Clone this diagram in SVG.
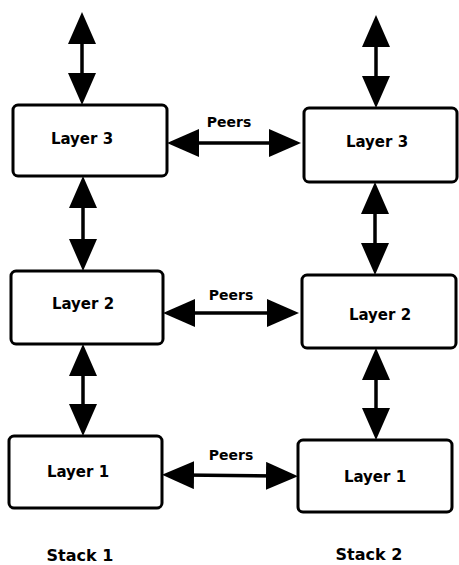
<svg xmlns="http://www.w3.org/2000/svg" width="459" height="565" viewBox="0 0 459 565">
<style>
.box{fill:#fff;stroke:#000;stroke-width:3}
.lbl{font-family:"DejaVu Sans",sans-serif;font-weight:bold;font-size:15px;text-anchor:middle;dominant-baseline:central;fill:#000}
.stk{font-family:"DejaVu Sans",sans-serif;font-weight:bold;font-size:16px;text-anchor:middle;dominant-baseline:central;fill:#000}
.peer{font-family:"DejaVu Sans",sans-serif;font-weight:bold;font-size:14px;text-anchor:middle;dominant-baseline:central;fill:#000}
.con{stroke:#000;stroke-width:3.5;fill:none;marker-start:url(#ah);marker-end:url(#ah)}
</style>
<defs>
<marker id="ah" markerUnits="userSpaceOnUse" viewBox="0 0 32 28" markerWidth="32" markerHeight="28" refX="12" refY="14" orient="auto-start-reverse">
<path d="M0,0 L32,14 L0,28 z" fill="#000"/>
</marker>
</defs>
<g id="connectors">
<line class="con" x1="82" y1="32" x2="82" y2="85"/>
<line class="con" x1="83" y1="196" x2="83" y2="251"/>
<line class="con" x1="83" y1="364" x2="83" y2="416"/>
<line class="con" x1="376" y1="35" x2="376" y2="88"/>
<line class="con" x1="375" y1="202" x2="375" y2="255"/>
<line class="con" x1="376" y1="368" x2="376" y2="420"/>
<line class="con" x1="187" y1="143" x2="281" y2="143"/>
<line class="con" x1="183" y1="313" x2="279" y2="313"/>
<line class="con" x1="182" y1="475" x2="278" y2="476"/>
<text class="peer" x="229" y="122">Peers</text>
<text class="peer" x="231" y="295">Peers</text>
<text class="peer" x="231" y="455">Peers</text>
</g>
<g id="s1l3"><rect class="box" x="13" y="105" width="154" height="71" rx="5"/><text class="lbl" x="82" y="139">Layer 3</text></g>
<g id="s1l2"><rect class="box" x="11" y="271" width="152" height="73" rx="5"/><text class="lbl" x="83" y="304">Layer 2</text></g>
<g id="s1l1"><rect class="box" x="9" y="436" width="153" height="72" rx="5"/><text class="lbl" x="78" y="472">Layer 1</text></g>
<g id="s2l3"><rect class="box" x="304" y="108" width="153" height="74" rx="5"/><text class="lbl" x="377" y="142">Layer 3</text></g>
<g id="s2l2"><rect class="box" x="302" y="275" width="154" height="73" rx="5"/><text class="lbl" x="380" y="315">Layer 2</text></g>
<g id="s2l1"><rect class="box" x="298" y="440" width="154" height="72" rx="5"/><text class="lbl" x="375" y="477">Layer 1</text></g>
<g id="stack1"><text class="stk" x="80" y="555">Stack 1</text></g>
<g id="stack2"><text class="stk" x="369" y="554">Stack 2</text></g>
</svg>
